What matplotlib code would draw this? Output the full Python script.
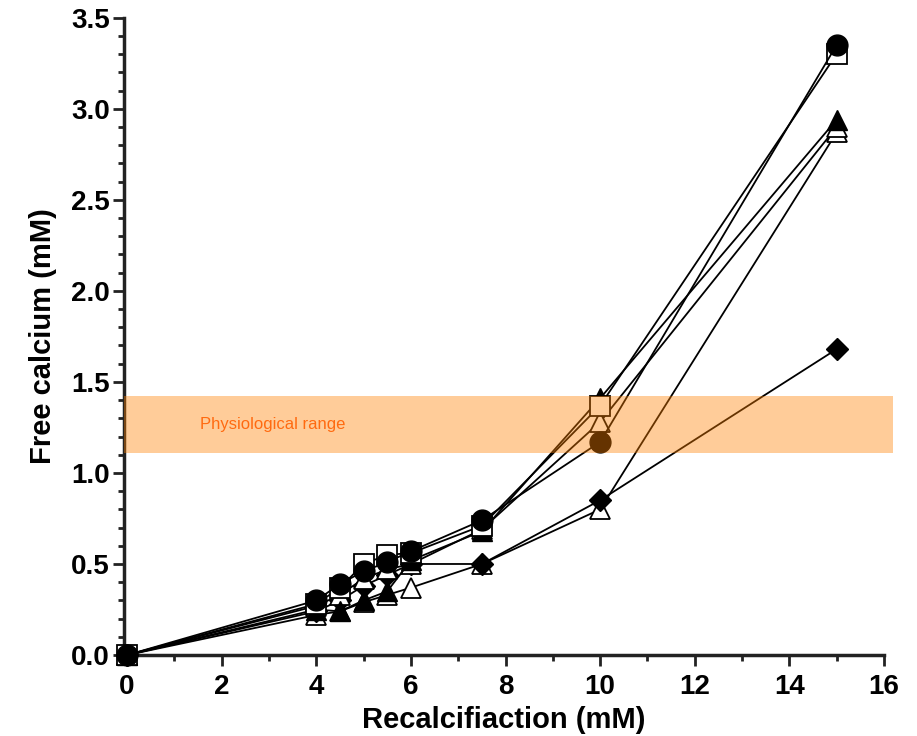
import matplotlib
matplotlib.use("Agg")
import matplotlib.pyplot as plt
from matplotlib.ticker import MultipleLocator

plt.rcParams['font.family'] = ['Liberation Sans', 'DejaVu Sans']

# recalcification levels (mM)
recalc = [0, 4, 4.5, 5, 5.5, 6, 7.5, 10, 15]

# free calcium (mM) per sample
circle_filled = [0, 0.30, 0.39, 0.46, 0.51, 0.57, 0.74, 1.17, 3.35]
square_open = [0, 0.28, 0.37, 0.50, 0.55, 0.56, 0.71, 1.37, 3.30]
triangle_filled = [0, 0.25, 0.24, 0.30, 0.35, 0.52, 0.68, 1.41, 2.94]
triangle_open_a = [0, 0.27, 0.33, 0.42, 0.47, 0.50, 0.69, 1.28, 2.90]
diamond_filled = [0, 0.24, 0.30, 0.38, 0.44, 0.50, 0.50, 0.85, 1.68]
triangle_open_b = [0, 0.22, 0.24, 0.29, 0.33, 0.37, 0.50, 0.80, 2.87]

band_lo, band_hi = 1.11, 1.42

fig = plt.figure(figsize=(9.17, 7.36), dpi=100)
ax = fig.add_axes([0.135, 0.110, 0.829, 0.866])

ms = 14
kw = dict(color='black', lw=1.3, mec='black', clip_on=False)
ax.plot(recalc, triangle_open_b, '-^', ms=ms, mfc='white', mew=1.3, **kw)
ax.plot(recalc, diamond_filled, '-D', ms=ms - 3, mfc='black', **kw)
ax.plot(recalc, triangle_open_a, '-^', ms=ms, mfc='white', mew=1.3, **kw)
ax.plot(recalc, triangle_filled, '-^', ms=ms, mfc='black', **kw)
ax.plot(recalc, square_open, '-s', ms=ms, mfc='white', mew=1.3, **kw)
ax.plot(recalc, circle_filled, '-o', ms=ms + 1, mfc='black', **kw)

# physiological band drawn over the data
ax.axhspan(band_lo, band_hi, xmin=0, xmax=1.012, color='#FF8000', alpha=0.4, lw=0, zorder=5, clip_on=False)
ax.text(1.55, (band_lo + band_hi) / 2, 'Physiological range', color='#FF6A10', fontsize=12,
        va='center', ha='left', zorder=6)

ax.set_xlim(-0.07, 16)
ax.set_ylim(0, 3.5)
ax.xaxis.set_major_locator(MultipleLocator(2))
ax.xaxis.set_minor_locator(MultipleLocator(1))
ax.yaxis.set_major_locator(MultipleLocator(0.5))
ax.yaxis.set_minor_locator(MultipleLocator(0.1))
ax.yaxis.set_major_formatter(plt.FormatStrFormatter('%.1f'))

for s in ['top', 'right']:
    ax.spines[s].set_visible(False)
for s in ['left', 'bottom']:
    ax.spines[s].set_linewidth(2.5)
    ax.spines[s].set_color('#222222')
    ax.spines[s].set_zorder(1)

ax.tick_params(which='major', length=8, width=2, color='#222222', labelsize=20, pad=2)
ax.tick_params(axis='x', which='major', pad=6)
ax.tick_params(which='minor', length=4, width=2, color='#222222')
for lab in ax.get_xticklabels() + ax.get_yticklabels():
    lab.set_fontweight('bold')

ax.set_xlabel('Recalcifiaction (mM)', fontsize=21, fontweight='bold', labelpad=4)
ax.set_ylabel('Free calcium (mM)', fontsize=21, fontweight='bold', labelpad=10)

fig.savefig('out.png', dpi=100)
